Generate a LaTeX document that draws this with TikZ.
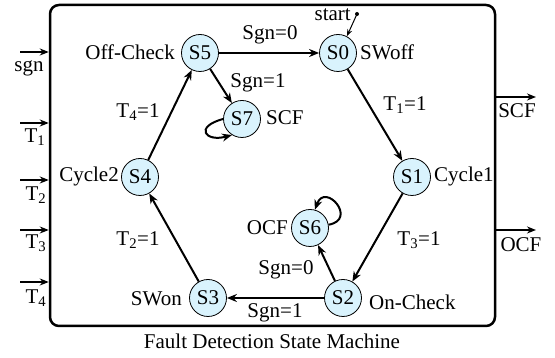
\documentclass[tikz,border=0pt]{standalone}
\usepackage{fontspec}
\setmainfont{Liberation Serif}
\usetikzlibrary{arrows.meta}
\begin{document}
\begin{tikzpicture}[x=1pt,y=1pt,font=\fontsize{21}{25}\selectfont,
  state/.style={circle,draw,line width=0.8pt,fill=cyan!15,minimum size=37pt,inner sep=0pt},
  edge/.style={line width=2pt,-{Stealth[length=10pt,width=8pt]}},
  io/.style={line width=1.5pt,-{Stealth[length=9pt,width=7pt]}},
  lbl/.style={inner sep=0pt}]
\useasboundingbox (0,0) rectangle (555,358);
% frame
\node[draw,line width=2.5pt,rounded corners=9pt,minimum width=445pt,minimum height=321pt,inner sep=0pt] (frame) at (272.5,192.5) {};
% states
\node[state] (S5) at (200,305) {S5};
\node[state] (S0) at (338,305) {S0};
\node[state] (S7) at (242,239) {S7};
\node[state] (S4) at (140,181) {S4};
\node[state] (S1) at (412,181) {S1};
\node[state] (S6) at (310,130) {S6};
\node[state] (S2) at (343,60) {S2};
\node[state] (S3) at (208,60) {S3};
% state names
\node[lbl,anchor=east] (nS5) at (175,306) {Off-Check};
\node[lbl,anchor=west] (nS0) at (360,306) {SWoff};
\node[lbl,anchor=west] (nS7) at (266,240) {SCF};
\node[lbl,anchor=east] (nS4) at (119,182) {Cycle2};
\node[lbl,anchor=west] (nS1) at (434,182) {Cycle1};
\node[lbl,anchor=east] (nS6) at (288,130) {OCF};
\node[lbl,anchor=west] (nS2) at (369,56) {On-Check};
\node[lbl,anchor=east] (nS3) at (182,59) {SWon};
% transitions
\draw[edge] (S5) -- (S0);
\draw[edge] (S0) -- (S1);
\draw[edge] (S1) -- (S2);
\draw[edge] (S2) -- (S3);
\draw[edge] (S3) -- (S4);
\draw[edge] (S4) -- (S5);
\draw[edge] (S5) -- (S7);
\draw[edge] (S2) -- (S6);
\draw[edge] (S7.180) .. controls +(195:30pt) and +(195:28pt) .. (S7.238);
\draw[edge] (S6.10) .. controls +(10:30pt) and +(70:30pt) .. (S6.75);
% transition labels
\node[lbl] (l50) at (270,323) {Sgn=0};
\node[lbl] (l57) at (258,275) {Sgn=1};
\node[lbl] (l45) at (138,246) {T\textsubscript{4}=1};
\node[lbl] (l01) at (405,253) {T\textsubscript{1}=1};
\node[lbl] (l12) at (419,118) {T\textsubscript{3}=1};
\node[lbl] (l34) at (138,118) {T\textsubscript{2}=1};
\node[lbl] (l26) at (286,88) {Sgn=0};
\node[lbl] (l23) at (275,45) {Sgn=1};
% start
\coordinate (st) at (357,344);
\fill (st) circle (2pt);
\node[lbl,anchor=base east] (stl) at (351,337) {start};
\draw[line width=1pt,-{Stealth[length=7pt,width=5pt]}] (st) -- (S0.62);
% inputs
\coordinate (isgn) at (20,306);
\coordinate (iT1) at (20,235);
\coordinate (iT2) at (20,178);
\coordinate (iT3) at (20,128);
\coordinate (iT4) at (20,76);
\draw[io] (isgn) -- (isgn -| frame.west);
\draw[io] (iT1) -- (iT1 -| frame.west);
\draw[io] (iT2) -- (iT2 -| frame.west);
\draw[io] (iT3) -- (iT3 -| frame.west);
\draw[io] (iT4) -- (iT4 -| frame.west);
\node[lbl] (tsgn) at (29,290) {sgn};
\node[lbl] (tT1) at (35,221) {T\textsubscript{1}};
\node[lbl] (tT2) at (36,163) {T\textsubscript{2}};
\node[lbl] (tT3) at (36,115) {T\textsubscript{3}};
\node[lbl] (tT4) at (36,60) {T\textsubscript{4}};
% outputs
\coordinate (oscf) at (536,261);
\coordinate (oocf) at (536,128);
\draw[io] (oscf -| frame.east) -- (oscf);
\draw[io] (oocf -| frame.east) -- (oocf);
\node[lbl] (tscf) at (517,247) {SCF};
\node[lbl] (tocf) at (521,113) {OCF};
% title
\node[lbl] (title) at (272,17) {Fault Detection State Machine};
\end{tikzpicture}
\end{document}
